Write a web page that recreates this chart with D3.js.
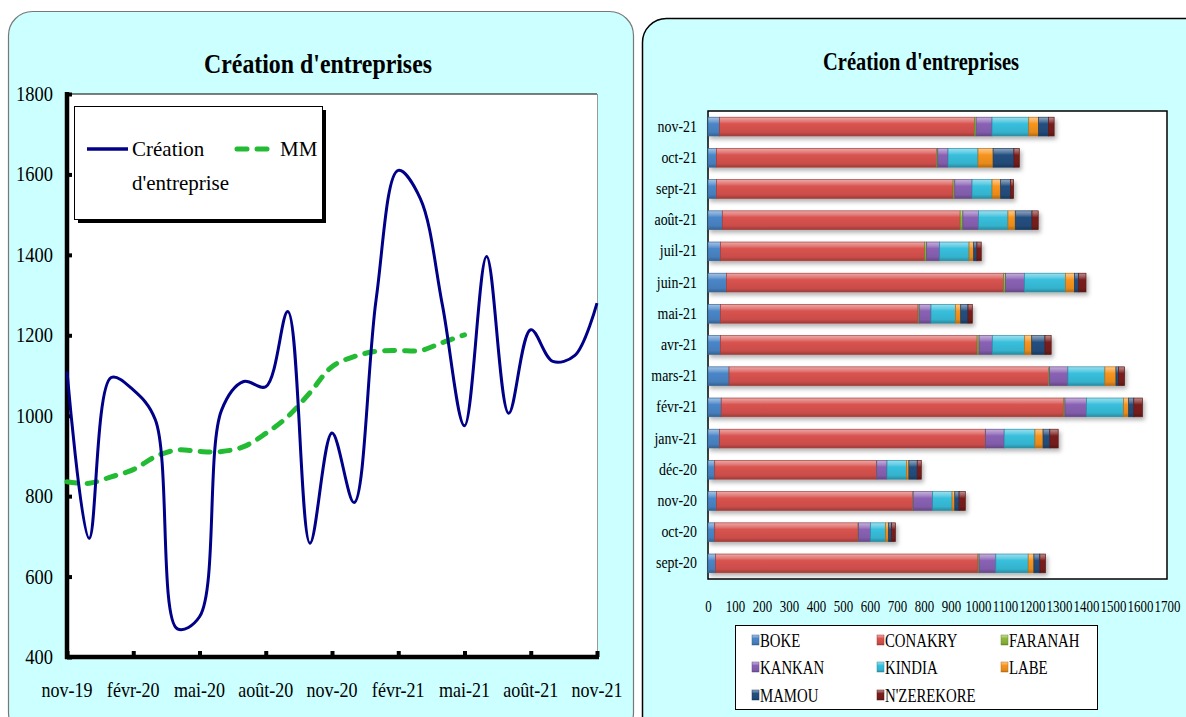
<!DOCTYPE html>
<html><head><meta charset="utf-8">
<script src="https://cdn.jsdelivr.net/npm/d3@7"></script>
<style>
body{margin:0;background:#fff;}
svg text{font-family:"Liberation Serif","Times New Roman",serif;}
</style></head>
<body>
<svg id="chart" width="1186" height="717" font-family="Liberation Serif"></svg>
<script>
// ---------- Left chart data ----------
const months = ["nov-19","déc-19","janv-20","févr-20","mars-20","avr-20","mai-20","juin-20","juil-20","août-20","sept-20","oct-20","nov-20","déc-20","janv-21","févr-21","mars-21","avr-21","mai-21","juin-21","juil-21","août-21","sept-21","oct-21","nov-21"];
const creation = [1110, 695, 1095, 1064, 990, 470, 500, 1014, 1085, 1072, 1259, 683, 957, 784, 1290, 1610, 1540, 1275, 975, 1396, 1006, 1214, 1135, 1150, 1280];
const mm = [836, 832, 848, 866, 898, 915, 911, 911, 923, 956, 998, 1057, 1122, 1147, 1160, 1162, 1162, 1182, 1201];
const xTickLabels = ["nov-19","févr-20","mai-20","août-20","nov-20","févr-21","mai-21","août-21","nov-21"];
const yTicksLeft = [400,600,800,1000,1200,1400,1600,1800];

// ---------- Right chart data ----------
const categories = ["sept-20","oct-20","nov-20","déc-20","janv-21","févr-21","mars-21","avr-21","mai-21","juin-21","juil-21","août-21","sept-21","oct-21","nov-21"];
const regions = ["BOKE","CONAKRY","FARANAH","KANKAN","KINDIA","LABE","MAMOU","N'ZEREKORE"];
const boke      = [28, 25, 31, 25, 43, 49, 78, 46, 46, 68, 46, 53, 31, 31, 43];
const conakry   = [972, 531, 728, 599, 984, 1269, 1183, 951, 732, 1027, 757, 881, 877, 815, 944];
const faranah   = [4, 2, 1, 1, 1, 4, 4, 7, 4, 7, 7, 10, 6, 5, 6];
const kankan    = [62, 44, 72, 38, 69, 80, 68, 49, 44, 70, 48, 58, 64, 38, 59];
const kindia    = [120, 56, 72, 72, 114, 137, 137, 120, 91, 152, 109, 109, 74, 111, 136];
const labe      = [21, 11, 10, 9, 30, 19, 41, 26, 19, 33, 17, 27, 32, 56, 36];
const mamou     = [22, 11, 16, 31, 25, 19, 10, 49, 27, 16, 12, 62, 36, 77, 37];
const nzerekore = [21, 14, 23, 15, 31, 32, 22, 23, 16, 27, 16, 23, 12, 20, 21];
const xTicksRight = d3.range(0, 1800, 100);
const regionColors = ["#4a86c8","#d9534f","#8db83c","#8a62b5","#38bfdc","#f7941d","#244f80","#7a1f1c"];

const FONT = "Liberation Serif";
const svg = d3.select("#chart");
const defs = svg.append("defs");

// panels
svg.append("rect").attr("x",8.5).attr("y",11.5).attr("width",625).attr("height",725).attr("rx",24)
  .attr("fill","#ccffff").attr("stroke","#777").attr("stroke-width",1.2);
svg.append("rect").attr("x",642.5).attr("y",18.5).attr("width",580).attr("height",725).attr("rx",24)
  .attr("fill","#ccffff").attr("stroke","#000").attr("stroke-width",1.5);

// ================= LEFT CHART =================
const L = {x0:67, x1:597, y0:94, y1:657};
const xL = d3.scaleLinear().domain([0, months.length-1]).range([L.x0, L.x1]);
const yL = d3.scaleLinear().domain([400,1800]).range([L.y1, L.y0]);
const gL = svg.append("g").attr("font-family",FONT);

gL.append("rect").attr("x",L.x0).attr("y",L.y0).attr("width",L.x1-L.x0).attr("height",L.y1-L.y0).attr("fill","#fff");
gL.append("line").attr("x1",L.x0).attr("x2",L.x1).attr("y1",L.y0).attr("y2",L.y0).attr("stroke","#000").attr("stroke-width",1);
gL.append("line").attr("x1",L.x1+0.5).attr("x2",L.x1+0.5).attr("y1",L.y0).attr("y2",L.y1).attr("stroke","#999").attr("stroke-width",1);

gL.append("text").attr("x",318).attr("y",73).attr("text-anchor","middle").attr("font-family",FONT)
  .attr("font-size",27).attr("font-weight","bold").attr("textLength",228).attr("lengthAdjust","spacingAndGlyphs")
  .text("Création d'entreprises");

// y axis
const yAxisL = d3.axisRight(yL).tickValues(yTicksLeft).tickSize(5).tickFormat("");
gL.append("g").attr("transform",`translate(${L.x0},0)`).call(yAxisL)
  .call(g=>{g.select(".domain").remove(); g.selectAll("line").attr("stroke","#000").attr("stroke-width",4);});
gL.append("g").selectAll("text").data(yTicksLeft).join("text")
  .attr("transform",d=>`translate(53,${yL(d)+7}) scale(0.88,1)`)
  .attr("text-anchor","end").attr("font-size",21).attr("font-family",FONT)
  .text(d=>d);

// x axis
const xTickIdx = d3.range(0, months.length, 3);
const xAxisL = d3.axisTop(xL).tickValues(xTickIdx).tickSize(6).tickFormat("");
gL.append("g").attr("transform",`translate(0,${L.y1})`).call(xAxisL)
  .call(g=>{g.select(".domain").remove(); g.selectAll("line").attr("stroke","#000").attr("stroke-width",4);});
gL.append("g").selectAll("text").data(xTickIdx).join("text")
  .attr("transform",(d)=>`translate(${xL(d)},697) scale(0.86,1)`)
  .attr("text-anchor","middle").attr("font-size",21).attr("font-family",FONT)
  .text((d,i)=>xTickLabels[i]);

// axis lines
gL.append("line").attr("x1",L.x0).attr("x2",L.x0).attr("y1",L.y0-2).attr("y2",L.y1+2).attr("stroke","#000").attr("stroke-width",4.5);
gL.append("line").attr("x1",L.x0-2).attr("x2",L.x1+2).attr("y1",L.y1).attr("y2",L.y1).attr("stroke","#000").attr("stroke-width",4.5);

// lines
const lineGen = d3.line().x((d,i)=>xL(i)).y(d=>yL(d)).curve(d3.curveCatmullRom.alpha(0.5));
gL.append("path").datum(mm).attr("d",lineGen).attr("fill","none").attr("stroke","#22bb33")
  .attr("stroke-width",5).attr("stroke-dasharray","10,10").attr("stroke-linecap","round");
gL.append("path").datum(creation).attr("d",lineGen).attr("fill","none").attr("stroke","#000088")
  .attr("stroke-width",3);

// legend
const lg = gL.append("g");
lg.append("rect").attr("x",78).attr("y",110).attr("width",248).attr("height",113).attr("fill","#000");
lg.append("rect").attr("x",74.5).attr("y",106.5).attr("width",248).attr("height",113).attr("fill","#fff").attr("stroke","#000").attr("stroke-width",1);
lg.append("line").attr("x1",87).attr("x2",128).attr("y1",149).attr("y2",149).attr("stroke","#000088").attr("stroke-width",3.5);
lg.append("text").attr("x",132).attr("y",156).attr("font-size",21).attr("font-family",FONT).text("Création");
lg.append("text").attr("x",132).attr("y",190).attr("font-size",21).attr("font-family",FONT).text("d'entreprise");
lg.append("line").attr("x1",237).attr("x2",276).attr("y1",149).attr("y2",149).attr("stroke","#22bb33")
  .attr("stroke-width",5).attr("stroke-dasharray","10,10").attr("stroke-linecap","round");
lg.append("text").attr("x",280).attr("y",156).attr("font-size",21).attr("font-family",FONT).text("MM");

// ================= RIGHT CHART =================
const R = {x0:708, x1:1167, y0:111, y1:579};
const xR = d3.scaleLinear().domain([0,1700]).range([R.x0, R.x1]);
const yR = d3.scaleBand().domain(categories.slice().reverse()).range([R.y0, R.y1]).paddingInner(0.4).paddingOuter(0.2);
const gR = svg.append("g").attr("font-family",FONT);

gR.append("text").attr("x",921).attr("y",70).attr("text-anchor","middle").attr("font-family",FONT)
  .attr("font-size",25).attr("font-weight","bold").attr("textLength",196).attr("lengthAdjust","spacingAndGlyphs")
  .text("Création d'entreprises");

gR.append("rect").attr("x",R.x0).attr("y",R.y0).attr("width",R.x1-R.x0).attr("height",R.y1-R.y0)
  .attr("fill","#fff").attr("stroke","#000").attr("stroke-width",1.5);

// gradients (bevel look)
regionColors.forEach((c,i)=>{
  const base = d3.color(c);
  const gr = defs.append("linearGradient").attr("id","grad"+i).attr("x1",0).attr("x2",0).attr("y1",0).attr("y2",1);
  gr.append("stop").attr("offset","0%").attr("stop-color",d3.interpolateRgb(c,"#fff")(0.5));
  gr.append("stop").attr("offset","22%").attr("stop-color",d3.interpolateRgb(c,"#fff")(0.22));
  gr.append("stop").attr("offset","35%").attr("stop-color",c);
  gr.append("stop").attr("offset","80%").attr("stop-color",base.darker(0.2).formatHex());
  gr.append("stop").attr("offset","100%").attr("stop-color",base.darker(0.9).formatHex());
});
const flt = defs.append("filter").attr("id","shadow").attr("x","-5%").attr("y","-30%").attr("width","115%").attr("height","170%");
flt.append("feDropShadow").attr("dx",2).attr("dy",3).attr("stdDeviation",2).attr("flood-color","#000").attr("flood-opacity",0.3);

const seriesArrays = [boke, conakry, faranah, kankan, kindia, labe, mamou, nzerekore];
const table = categories.map((c,j)=>{
  const o = {cat:c};
  regions.forEach((r,i)=>o[r]=seriesArrays[i][j]);
  return o;
});
const stacked = d3.stack().keys(regions)(table);

const barsG = gR.append("g").attr("filter","url(#shadow)");
stacked.forEach((s,i)=>{
  barsG.append("g").selectAll("rect").data(s).join("rect")
    .attr("x",d=>xR(d[0])).attr("width",d=>Math.max(0,xR(d[1])-xR(d[0])))
    .attr("y",d=>yR(d.data.cat)).attr("height",yR.bandwidth())
    .attr("fill",`url(#grad${i})`)
    .attr("stroke",d3.color(regionColors[i]).darker(0.8).formatHex()).attr("stroke-width",0.7);
});

// category labels
gR.append("g").selectAll("text").data(categories).join("text")
  .attr("transform",d=>`translate(697,${yR(d)+yR.bandwidth()/2+5}) scale(0.82,1)`)
  .attr("text-anchor","end").attr("font-size",17).attr("font-family",FONT).text(d=>d);

// x tick labels
const xAxisR = d3.axisBottom(xR).tickValues(xTicksRight).tickSize(0).tickFormat(d=>d);
gR.append("g").attr("transform",`translate(0,${R.y1})`).call(xAxisR)
  .call(g=>{g.select(".domain").remove(); g.attr("font-family",FONT);
    g.selectAll("text").attr("font-family",FONT).attr("font-size",17).attr("fill","#000")
      .attr("y",0).attr("dy",0).attr("transform","translate(0,33) scale(0.76,1)");});

// legend
const lgR = gR.append("g");
lgR.append("rect").attr("x",735.5).attr("y",625.5).attr("width",362).attr("height",84).attr("fill","#fff").attr("stroke","#000").attr("stroke-width",1);
const colX = [752, 877, 1001], rowY = [640, 667, 695];
regions.forEach((r,i)=>{
  const cx = colX[i%3], cy = rowY[Math.floor(i/3)];
  lgR.append("rect").attr("x",cx).attr("y",cy-5).attr("width",7).attr("height",10).attr("fill",`url(#grad${i})`)
    .attr("stroke",d3.color(regionColors[i]).darker(0.8).formatHex()).attr("stroke-width",0.5);
  lgR.append("text").attr("transform",`translate(${cx+8},${cy+7}) scale(0.78,1)`).attr("font-size",19).attr("font-family",FONT).text(r);
});
</script>
</body></html>
